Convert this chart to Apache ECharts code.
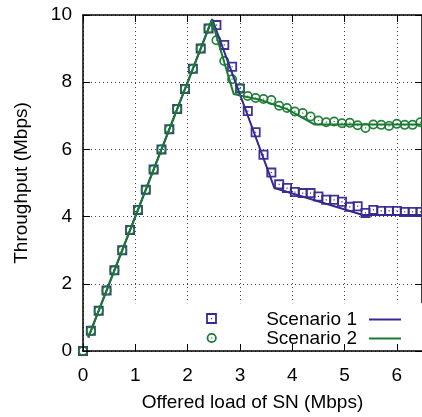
<!DOCTYPE html>
<html>
<head>
<meta charset="utf-8">
<script src="https://cdn.jsdelivr.net/npm/echarts@6/dist/echarts.min.js"></script>
<style>
  html, body { margin: 0; padding: 0; background: #fff; }
  #main { width: 422px; height: 417px; }
</style>
</head>
<body>
<div id="main"></div>
<script>
// offered load (Mbps), simulation points
const loadX = [0, 0.15, 0.3, 0.45, 0.6, 0.75, 0.9, 1.05, 1.2, 1.35, 1.5, 1.65, 1.8, 1.95, 2.1, 2.25, 2.4,
  2.55, 2.7, 2.85, 3.0, 3.15, 3.3, 3.45, 3.6, 3.75, 3.9, 4.05, 4.2, 4.35, 4.5, 4.65, 4.8, 4.95,
  5.1, 5.25, 5.4, 5.55, 5.7, 5.85, 6.0, 6.15, 6.3, 6.45];
// scenario 1 throughput (squares)
const s1Y = [0, 0.6, 1.2, 1.8, 2.4, 3.0, 3.6, 4.2, 4.8, 5.4, 6.0, 6.6, 7.2, 7.8, 8.4, 9.0, 9.6,
  9.7, 9.11, 8.46, 7.81, 7.14, 6.51, 5.84, 5.31, 4.96, 4.85, 4.73, 4.70, 4.70, 4.60, 4.50, 4.50, 4.44,
  4.29, 4.31, 4.11, 4.20, 4.17, 4.17, 4.17, 4.14, 4.14, 4.14];
// scenario 2 throughput (circles)
const s2Y = [0, 0.6, 1.2, 1.8, 2.4, 3.0, 3.6, 4.2, 4.8, 5.4, 6.0, 6.6, 7.2, 7.8, 8.4, 9.0, 9.6,
  9.25, 8.63, 8.09, 7.82, 7.59, 7.53, 7.50, 7.47, 7.30, 7.23, 7.13, 7.08, 6.98, 6.86, 6.81, 6.83, 6.78,
  6.79, 6.72, 6.64, 6.74, 6.73, 6.70, 6.76, 6.73, 6.73, 6.81];
// model curves
const line1X = [0.1, 2.47, 3.66, 5.35, 6.48];
const line1Y = [0.4, 9.88, 4.85, 4.05, 4.05];
const line2X = [0.1, 2.46, 2.88, 3.4, 3.9, 4.43, 6.48];
const line2Y = [0.4, 9.85, 7.65, 7.47, 7.2, 6.74, 6.74];

const legendNames = ['Scenario 1', 'Scenario 2'];
const xTicks = [0, 1, 2, 3, 4, 5, 6];

const BLUE = '#352a92';
const GREEN = '#1b7a31';
const FONT = "'Liberation Sans', Arial, Helvetica, sans-serif";

const SQUARE = 'path://M0 0H10V10H0Z M1.8 1.8V8.2H8.2V1.8Z M4.4 4.4H5.6V5.6H4.4Z';
const CIRCLE = 'path://M5 0A5 5 0 1 1 5 10A5 5 0 1 1 5 0Z M5 1.7A3.3 3.3 0 1 0 5 8.3A3.3 3.3 0 1 0 5 1.7Z M4.4 4.4H5.6V5.6H4.4Z';

function zip(xs, ys) {
  let out = [];
  for (let i = 0; i < xs.length; i++) out.push([xs[i], ys[i]]);
  return out;
}

let chart = echarts.init(document.getElementById('main'), null, { renderer: 'canvas' });

const dotted = { type: [1, 3], color: '#444', width: 1 };

let option = {
  animation: false,
  backgroundColor: '#fff',
  textStyle: { fontFamily: FONT },
  grid: { left: 83, top: 15, width: 340, height: 342, containLabel: false },
  xAxis: [{
    type: 'value', min: 0, max: 6.48, interval: 1, position: 'bottom', z: 3,
    name: 'Offered load of SN (Mbps)', nameLocation: 'middle', nameGap: 42,
    nameTextStyle: { fontSize: 19, color: '#000', fontFamily: FONT },
    axisLine: { show: true, onZero: false, lineStyle: { color: '#000', width: 1.5 } },
    axisTick: { inside: true, length: 7, lineStyle: { color: '#000' } },
    axisLabel: {
      fontSize: 19, color: '#000', margin: 15, fontFamily: FONT, showMaxLabel: false,
      formatter: v => xTicks.indexOf(v) >= 0 ? String(v) : ''
    },
    splitLine: { show: false }
  }, {
    type: 'value', min: 0, max: 6.48, interval: 1, position: 'top', z: 0,
    axisLine: { show: true, onZero: false, lineStyle: { color: '#000', width: 1.5 } },
    axisTick: { inside: true, length: 7, lineStyle: { color: '#000' } },
    axisLabel: { show: false },
    splitLine: { show: true, lineStyle: dotted }
  }],
  yAxis: [{
    type: 'value', min: 0, max: 10, interval: 2, position: 'left', z: 3,
    name: 'Throughput (Mbps)', nameLocation: 'middle', nameGap: 52,
    nameTextStyle: { fontSize: 19, color: '#000', fontFamily: FONT },
    axisLine: { show: true, onZero: false, lineStyle: { color: '#000', width: 1.5 } },
    axisTick: { inside: true, length: 7, lineStyle: { color: '#000' } },
    axisLabel: { fontSize: 19, color: '#000', margin: 11, fontFamily: FONT },
    splitLine: { show: false }
  }, {
    type: 'value', min: 0, max: 10, interval: 2, position: 'right', z: 0,
    axisLine: { show: true, onZero: false, lineStyle: { color: '#000', width: 1.5 } },
    axisTick: { inside: true, length: 7, lineStyle: { color: '#000' } },
    axisLabel: { show: false },
    splitLine: { show: true, lineStyle: dotted }
  }],
  series: [{
    type: 'scatter', name: 'pts1', xAxisIndex: 0, yAxisIndex: 0,
    data: zip(loadX, s1Y), symbol: SQUARE, symbolSize: 10,
    itemStyle: { color: BLUE, opacity: 0.95 },
    // key box hides the grid lines under it
    markArea: {
      silent: true,
      itemStyle: { color: '#fff', opacity: 1 },
      data: [[{ xAxis: 0.6, yAxis: 0 }, { xAxis: 6.48, yAxis: 1.42 }]]
    }
  }, {
    type: 'scatter', name: 'pts2', xAxisIndex: 0, yAxisIndex: 0,
    data: zip(loadX, s2Y), symbol: CIRCLE, symbolSize: 10,
    itemStyle: { color: GREEN, opacity: 0.95 }
  }, {
    type: 'line', name: legendNames[0], xAxisIndex: 0, yAxisIndex: 0,
    data: zip(line1X, line1Y), symbol: 'none',
    lineStyle: { color: BLUE, width: 2 }
  }, {
    type: 'line', name: legendNames[1], xAxisIndex: 0, yAxisIndex: 0,
    data: zip(line2X, line2Y), symbol: 'none',
    lineStyle: { color: GREEN, width: 2 }
  }],
  graphic: [
    // key
    { type: 'rect', shape: { x: 207, y: 314, width: 9, height: 9 }, style: { fill: 'none', stroke: BLUE, lineWidth: 1.8 }, z: 10 },
    { type: 'rect', shape: { x: 211, y: 318, width: 1.2, height: 1.2 }, style: { fill: BLUE }, z: 10 },
    { type: 'circle', shape: { cx: 211.7, cy: 338, r: 4.2 }, style: { fill: 'none', stroke: GREEN, lineWidth: 1.8 }, z: 10 },
    { type: 'rect', shape: { x: 211.1, y: 337.4, width: 1.2, height: 1.2 }, style: { fill: GREEN }, z: 10 },
    { type: 'text', x: 357, y: 319.5, z: 10, style: { text: legendNames[0], fontSize: 19, fontFamily: FONT, fill: '#000', align: 'right', verticalAlign: 'middle' } },
    { type: 'text', x: 357, y: 338.5, z: 10, style: { text: legendNames[1], fontSize: 19, fontFamily: FONT, fill: '#000', align: 'right', verticalAlign: 'middle' } },
    { type: 'line', shape: { x1: 369, y1: 319.5, x2: 401, y2: 319.5 }, style: { stroke: BLUE, lineWidth: 2 }, z: 10 },
    { type: 'line', shape: { x1: 369, y1: 338.5, x2: 401, y2: 338.5 }, style: { stroke: GREEN, lineWidth: 2 }, z: 10 }
  ]
};

chart.setOption(option);
</script>
</body>
</html>
